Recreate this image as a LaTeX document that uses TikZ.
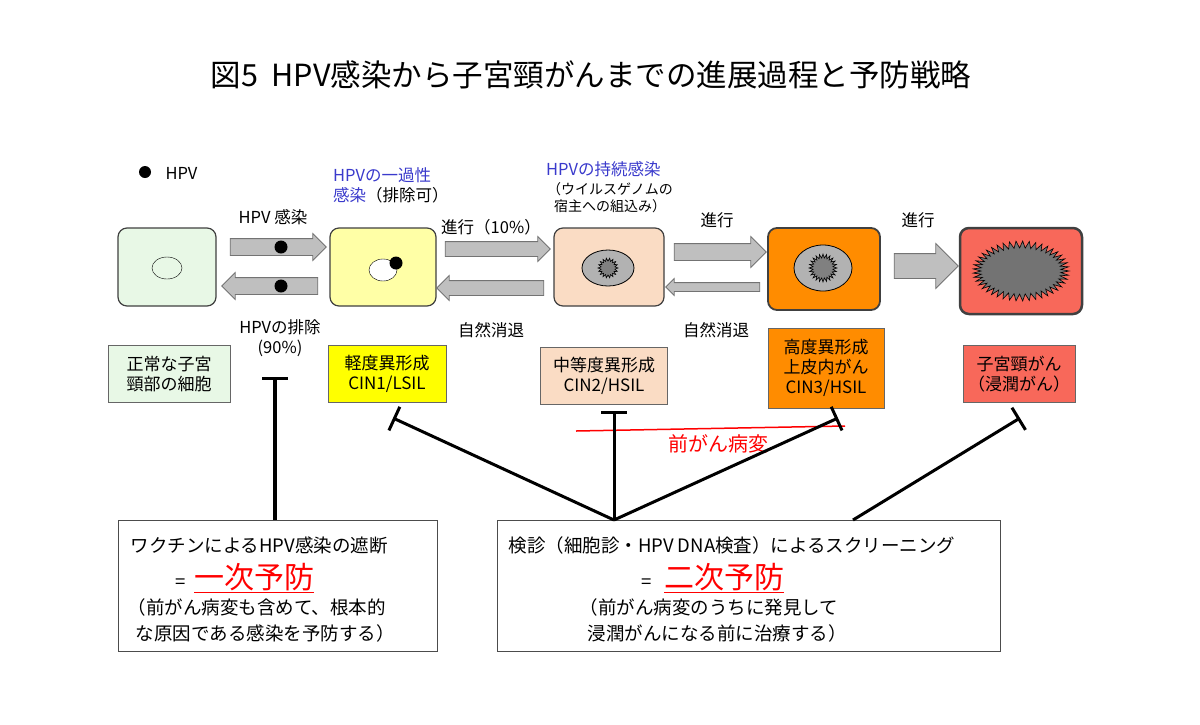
\documentclass[tikz,border=0pt]{standalone}
\usepackage{fontspec}
\setmainfont{Noto Sans CJK JP}
\usetikzlibrary{shapes.arrows,shapes.geometric,arrows.meta}
\definecolor{cg}{HTML}{E8F8E6}\definecolor{cy}{HTML}{FFFFA6}\definecolor{cp}{HTML}{FADCC4}
\definecolor{co}{HTML}{FF8C00}\definecolor{cr}{HTML}{F8685A}\definecolor{bl}{HTML}{3A3ACC}
\definecolor{ay}{HTML}{FFFF00}
\begin{document}
\begin{tikzpicture}[x=1pt,y=-1pt,
 cell/.style={draw=black!75,line width=1.2pt,rounded corners=9pt},
 lab/.style={draw=black!60,line width=0.8pt,align=center,font=\fontsize{17}{20}\selectfont,inner sep=2pt},
 txt/.style={font=\fontsize{16.5}{20}\selectfont,align=center},
 btxt/.style={font=\fontsize{18.5}{26}\selectfont,align=left},
 fat/.style={single arrow,draw=black!55,fill=black!25,line width=0.8pt,inner xsep=0pt,anchor=center},
 tbar/.style={line width=3pt,-{Bar[width=26pt,line width=3pt]}},
 nuc/.style={draw=black,fill=black!30,line width=0.8pt}]
\useasboundingbox (0,0) rectangle (1200,724);
\fill[white] (0,0) rectangle (1200,724);
\node (title) at (591,75) {\fontsize{30.5}{34}\selectfont 図5\ \ HPV感染から子宮頸がんまでの進展過程と予防戦略};
% legend
\fill (145,172) circle (6);
\node[txt,anchor=west] (leg) at (162,173) {HPV};
% cells
\draw[cell,fill=cg] (118,228) rectangle (216,306);
\node[draw,ellipse,minimum width=30pt,minimum height=22pt,inner sep=0pt] (n1) at (167,268) {};
\draw[cell,fill=cy] (330,228) rectangle (436,306);
\draw[fill=white] (383,270) ellipse (14 and 11);
\fill (396,263) circle (6.5);
\draw[cell,fill=cp] (554,228) rectangle (664,306);
\draw[nuc] (608,268) ellipse (26 and 18);
\draw[cell,fill=co,line width=1.8pt] (768,228) rectangle (880,310);
\draw[nuc] (823,268) ellipse (29 and 23);
\draw[cell,fill=cr,line width=2.5pt] (960,228) rectangle (1082,314);
% spiky nuclei
\draw[fill=black!50,line width=0.6pt] plot[samples=37,domain=0:360] ({608+(8.5+1.5*cos(18*\x))*cos(\x)},{268+(8.5+1.5*cos(18*\x))*sin(\x)}) -- cycle;
\draw[fill=black!50,line width=0.6pt] plot[samples=49,domain=0:360] ({823+(12+2*cos(24*\x))*cos(\x)},{268+(12+2*cos(24*\x))*sin(\x)}) -- cycle;
\draw[fill=black!55,line width=0.6pt] plot[samples=91,domain=0:360] ({1021+(44+4*cos(45*\x))*cos(\x)},{271+(26.5+3.5*cos(45*\x))*sin(\x)}) -- cycle;
% arrows
\node[fat,minimum height=96pt,inner ysep=8pt,single arrow head extend=5pt] (a1) at (274,247) {};
\node[fat,minimum height=96pt,inner ysep=8pt,single arrow head extend=5pt,shape border rotate=180] (a2) at (274,286) {};
\fill (281,247) circle (6.5); \fill (281,286) circle (6.5);
\node[fat,minimum height=105pt,inner ysep=7pt,single arrow head extend=5pt] (a3) at (494,249) {};
\node[fat,minimum height=107pt,inner ysep=7pt,single arrow head extend=5pt,shape border rotate=180] (a4) at (494,288) {};
\node[fat,minimum height=92pt,inner ysep=8pt,single arrow head extend=7pt] (a5) at (716,252) {};
\node[fat,minimum height=94pt,inner ysep=4pt,single arrow head extend=4pt,shape border rotate=180] (a6) at (715,287) {};
\node[fat,minimum height=64pt,inner ysep=12pt,single arrow head extend=10pt] (a7) at (920,266) {};
% arrow texts
\node[txt] (t1) at (273,217) {HPV 感染};
\node[txt] (t2) at (280,338) {HPVの排除\\(90\%)};
\node[txt] (t3) at (491,227) {進行（10\%）};
\node[txt] (t4) at (491,330) {自然消退};
\node[txt] (t5) at (717,220) {進行};
\node[txt] (t6) at (716,330) {自然消退};
\node[txt] (t7) at (918,220) {進行};
\node[txt,align=left,anchor=north west,text=bl,inner sep=0pt] (h1) at (333,167) {HPVの一過性\\感染\textcolor{black}{（排除可）}};
\node[txt,anchor=north west,text=bl,inner sep=0pt] (h2) at (546,161) {HPVの持続感染};
\node[anchor=north,align=center,font=\fontsize{14}{17}\selectfont,inner sep=0pt] (h3) at (610,182) {（ウイルスゲノムの\\宿主への組込み）};
% label boxes
\node[lab,fill=cg,minimum width=122pt,minimum height=57pt] (b1) at (169,374) {正常な子宮\\頸部の細胞};
\node[lab,fill=ay,minimum width=118pt,minimum height=57pt] (b2) at (387,374) {軽度異形成\\CIN1/LSIL};
\node[lab,fill=cp,minimum width=127pt,minimum height=57pt] (b3) at (604,376) {中等度異形成\\CIN2/HSIL};
\node[lab,fill=co,minimum width=116pt,minimum height=80pt] (b4) at (826,368) {高度異形成\\上皮内がん\\CIN3/HSIL};
\node[lab,fill=cr,minimum width=112pt,minimum height=57pt] (b5) at (1019,374) {子宮頸がん\\（浸潤がん）};
% prevention boxes
\node[draw=black!70,line width=1pt,minimum width=319pt,minimum height=131pt] (p1) at (277.5,585.5) {};
\node[draw=black!70,line width=1pt,minimum width=503pt,minimum height=131pt] (p2) at (748.5,585.5) {};
\node[btxt,anchor=west] (p1a) at (127,545) {ワクチンによるHPV感染の遮断};
\node[btxt,text=red,anchor=west] (p1b) at (172,578) {\textcolor{black}{=}\ \ \fontsize{30}{34}\selectfont\underline{一次予防}};
\node[btxt,anchor=west] (p1c) at (124,620) {（前がん病変も含めて、根本的\\\ \ な原因である感染を予防する）};
\node[btxt,anchor=west] (p2a) at (505,545) {検診（細胞診・HPV DNA検査）によるスクリーニング};
\node[btxt,text=red,anchor=west] (p2b) at (638,578) {\textcolor{black}{=}\ \ \ \fontsize{30}{34}\selectfont\underline{二次予防}};
\node[btxt,anchor=west] (p2c) at (576,620) {（前がん病変のうちに発見して\\\ \ 浸潤がんになる前に治療する）};
% red line
\coordinate (r1) at (576,431); \coordinate (r2) at (845,426);
\draw[red,line width=1.5pt] (r1) -- (r2);
\node[font=\fontsize{20}{24}\selectfont,text=red] (pre) at (718,444) {前がん病変};
% inhibitors
\coordinate (s1) at (275,520); \coordinate (e1) at (275,377);
\draw[tbar,line width=4pt] (s1) -- (e1);
\coordinate (s2) at (614,520);
\coordinate (e2) at (393,418); \coordinate (e3) at (614,411);
\coordinate (e4) at (838,418); \coordinate (e5) at (1020,418);
\coordinate (s5) at (853,520);
\draw[tbar] (s2) -- (e2);
\draw[tbar] (s2) -- (e3);
\draw[tbar] (s2) -- (e4);
\draw[tbar] (s5) -- (e5);
\end{tikzpicture}
\end{document}
